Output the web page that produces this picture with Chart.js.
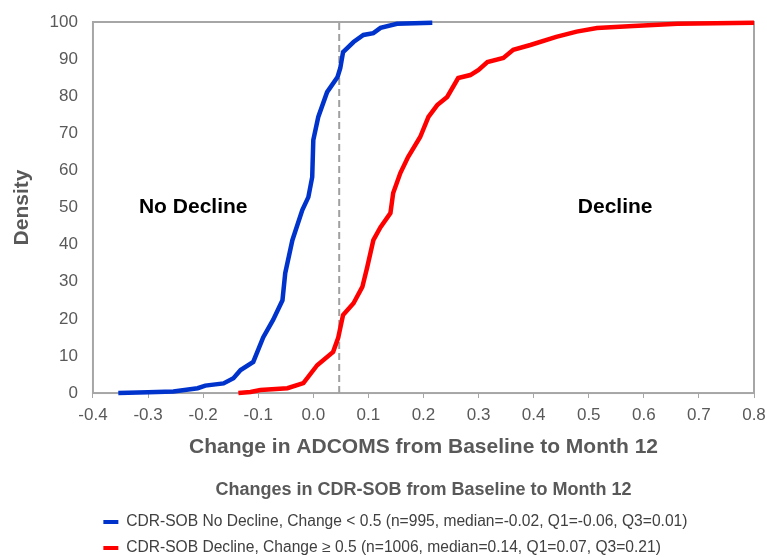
<!DOCTYPE html>
<html>
<head>
<meta charset="utf-8">
<script src="https://cdn.jsdelivr.net/npm/chart.js@4.4.1/dist/chart.umd.min.js"></script>
<style>
  html, body { margin: 0; padding: 0; background: #fff; }
  #wrap { width: 767px; height: 557px; }
</style>
</head>
<body>
<div id="wrap"><canvas id="myChart" width="767" height="557"></canvas></div>
<script>
// ECDF of change in ADCOMS
var noDeclineX = [-0.354, -0.30, -0.254, -0.21, -0.196, -0.163, -0.145, -0.132, -0.109, -0.091, -0.073, -0.056, -0.051, -0.038, -0.020, -0.009, -0.002, 0.0, 0.009, 0.025, 0.044, 0.049, 0.054, 0.073, 0.091, 0.109, 0.122, 0.152, 0.216];
var noDeclineY = [0, 0.2, 0.4, 1.3, 2, 2.6, 4, 6.2, 8.4, 15, 19.7, 25, 32.3, 41.2, 49.3, 52.8, 58.2, 68.2, 74.4, 81.1, 85.2, 87.6, 91.9, 94.6, 96.5, 97, 98.4, 99.5, 99.8];

var declineX = [-0.136, -0.114, -0.096, -0.047, -0.018, 0.007, 0.036, 0.045, 0.054, 0.073, 0.089, 0.098, 0.109, 0.122, 0.140, 0.145, 0.158, 0.172, 0.194, 0.209, 0.225, 0.243, 0.263, 0.285, 0.300, 0.316, 0.345, 0.363, 0.394, 0.441, 0.478, 0.515, 0.581, 0.661, 0.8];
var declineY = [0, 0.3, 0.8, 1.3, 2.7, 7.5, 11.1, 14.8, 21, 24.2, 28.6, 34, 41.2, 44.7, 48.5, 53.9, 59.3, 63.6, 69, 74.4, 77.6, 79.8, 84.9, 85.7, 87.1, 89.2, 90.3, 92.5, 93.8, 96, 97.4, 98.4, 98.9, 99.5, 99.8];

var cutoff = 0.047;
var regionLabels = ['No Decline', 'Decline'];
var regionX = [-0.218, 0.548];
var regionY = [50, 50];

var seriesNames = [
    'CDR-SOB No Decline, Change < 0.5 (n=995, median=-0.02, Q1=-0.06, Q3=0.01)',
    'CDR-SOB Decline, Change \u2265 0.5 (n=1006, median=0.14, Q1=0.07, Q3=0.21)'
];

function toPoints(xs, ys) {
    return xs.map(function (x, i) { return {x: x, y: ys[i]}; });
}

Chart.defaults.font.family = "'Liberation Sans', Arial, sans-serif";

var frameAndText = {
    id: 'frameAndText',
    beforeDatasetsDraw: function (chart) {
        var a = chart.chartArea, ctx = chart.ctx;
        ctx.save();
        ctx.strokeStyle = '#A6A6A6';
        ctx.lineWidth = 2;
        ctx.strokeRect(a.left, a.top, a.right - a.left, a.bottom - a.top);
        ctx.restore();
    },
    afterDatasetsDraw: function (chart) {
        var ctx = chart.ctx, sx = chart.scales.x, sy = chart.scales.y;
        ctx.save();
        ctx.fillStyle = '#000';
        ctx.font = "bold 21px 'Liberation Sans', Arial, sans-serif";
        ctx.textAlign = 'center';
        ctx.textBaseline = 'middle';
        regionLabels.forEach(function (t, i) {
            ctx.fillText(t, sx.getPixelForValue(regionX[i]), sy.getPixelForValue(regionY[i]));
        });
        ctx.restore();
    }
};

var ctx = document.getElementById('myChart').getContext('2d');

var myChart = new Chart(ctx, {
    type: 'line',
    data: {
        datasets: [
            {
                label: seriesNames[0],
                data: toPoints(noDeclineX, noDeclineY),
                borderColor: '#0033CC',
                backgroundColor: '#0033CC',
                borderWidth: 4.5,
                pointRadius: 0,
                tension: 0,
                clip: false
            },
            {
                label: seriesNames[1],
                data: toPoints(declineX, declineY),
                borderColor: '#FF0000',
                backgroundColor: '#FF0000',
                borderWidth: 4.5,
                pointRadius: 0,
                tension: 0,
                clip: false
            },
            {
                label: 'cutoff',
                data: [{x: cutoff, y: 0}, {x: cutoff, y: 100}],
                borderColor: '#A0A0A0',
                borderWidth: 2,
                borderDash: [7, 4],
                pointRadius: 0
            }
        ]
    },
    options: {
        responsive: false,
        animation: false,
        layout: { padding: { top: 22, right: 13, bottom: -8.8, left: 5 } },
        plugins: {
            tooltip: { enabled: false },
            legend: {
                position: 'bottom',
                align: 'start',
                fullSize: false,
                labels: {
                    padding: 10.4,
                    boxWidth: 15,
                    boxHeight: 4,
                    color: '#404040',
                    font: { size: 15.6 },
                    generateLabels: function (chart) {
                        return chart.data.datasets.slice(0, 2).map(function (ds, i) {
                            return {
                                text: ds.label,
                                fillStyle: ds.borderColor,
                                strokeStyle: ds.borderColor,
                                lineWidth: 0,
                                hidden: false,
                                datasetIndex: i,
                                fontColor: '#404040'
                            };
                        });
                    }
                }
            }
        },
        scales: {
            x: {
                type: 'linear',
                min: -0.4,
                max: 0.8,
                ticks: {
                    stepSize: 0.1,
                    color: '#595959',
                    font: { size: 17, lineHeight: 1.88 },
                    padding: 1,
                    callback: function (v) { return Number(v).toFixed(1); }
                },
                grid: { drawOnChartArea: false, tickLength: 5, color: '#A6A6A6' },
                border: { display: false },
                title: {
                    display: true,
                    text: 'Change in ADCOMS from Baseline to Month 12',
                    color: '#595959',
                    font: { size: 21, weight: 'bold' },
                    padding: { top: 2.4, bottom: 4 }
                }
            },
            x2: {
                type: 'linear',
                position: 'bottom',
                weight: 1,
                min: -0.4,
                max: 0.8,
                ticks: { display: false },
                grid: { display: false, drawTicks: false },
                border: { display: false },
                title: {
                    display: true,
                    text: 'Changes in CDR-SOB from Baseline to Month 12',
                    color: '#595959',
                    font: { size: 18, weight: 'bold' },
                    padding: { top: 15.6, bottom: 3 }
                }
            },
            y: {
                min: 0,
                max: 100,
                ticks: {
                    stepSize: 10,
                    color: '#595959',
                    font: { size: 17 },
                    padding: 11
                },
                grid: { drawOnChartArea: false, drawTicks: true, tickLength: 4, tickColor: 'rgba(0,0,0,0)' },
                border: { display: false },
                title: {
                    display: true,
                    text: 'Density',
                    color: '#595959',
                    font: { size: 21, weight: 'bold' },
                    padding: { top: 4.4, bottom: 4 }
                }
            }
        }
    },
    plugins: [frameAndText]
});
</script>
</body>
</html>
